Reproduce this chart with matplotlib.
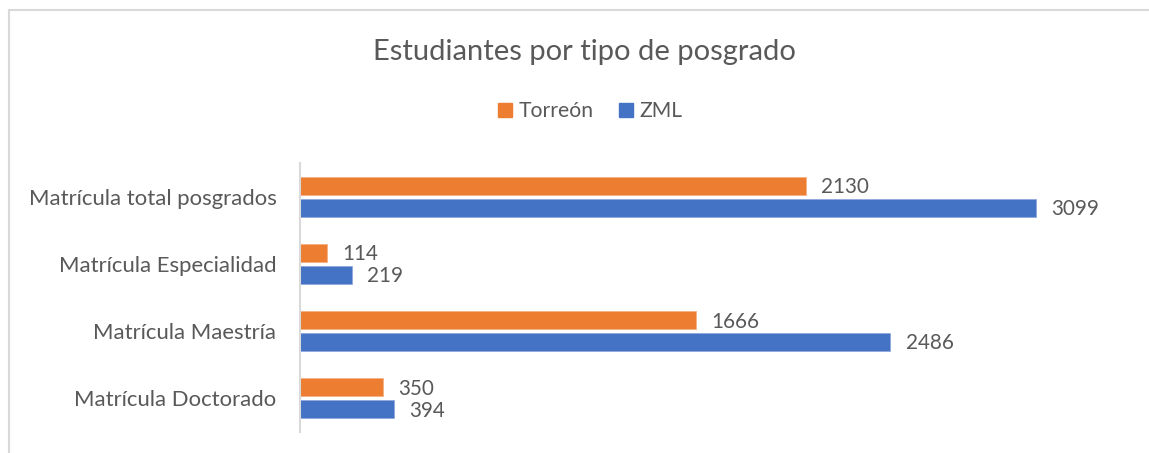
import matplotlib
matplotlib.use("Agg")
import matplotlib.pyplot as plt
import matplotlib.patches as mpatches
import numpy as np

plt.rcParams['font.family'] = ['Lato', 'DejaVu Sans']

title = "Estudiantes por tipo de posgrado"
categories = ["Matrícula total posgrados", "Matrícula Especialidad",
              "Matrícula Maestría", "Matrícula Doctorado"]
series_names = ["Torreón", "ZML"]
torreon = [2130, 114, 1666, 350]
zml = [3099, 219, 2486, 394]
colors = ["#ED7D31", "#4472C4"]
edge_colors = ["#F4B183", "#8FAADC"]
text_color = "#595959"

W, H = 1149, 453
fig = plt.figure(figsize=(W / 100, H / 100), dpi=100)
ax = fig.add_axes([300 / W, 1 - 432 / H, (1131 - 300) / W, (432 - 163) / H])

y = np.arange(len(categories))
bh = 0.267
off = 0.163
b1 = ax.barh(y - off, torreon, height=bh, color=colors[0],
             edgecolor=edge_colors[0], linewidth=0.6, label=series_names[0])
b2 = ax.barh(y + off, zml, height=bh, color=colors[1],
             edgecolor=edge_colors[1], linewidth=0.6, label=series_names[1])

ax.set_xlim(0, 3500)
ax.set_ylim(len(categories) - 0.5, -0.5)
ax.set_yticks(y)
ax.set_yticklabels(categories, color=text_color, fontsize=14)
ax.tick_params(axis='y', length=0, pad=17)
ax.set_xticks([])
for s in ['top', 'right', 'bottom']:
    ax.spines[s].set_visible(False)
ax.spines['left'].set_color('#d9d9d9')
ax.spines['left'].set_linewidth(1.5)

vlabels = []
for bars, vals in ((b1, torreon), (b2, zml)):
    for rect, v in zip(bars, vals):
        t = ax.annotate(str(v), xy=(v, rect.get_y() + rect.get_height() / 2),
                        xytext=(11, -1), textcoords='offset points',
                        va='center', ha='left', color=text_color, fontsize=14)
        vlabels.append(t)

ttl = fig.text(584 / W, 1 - 52 / H, title, ha='center', va='center',
               color=text_color, fontsize=20)

leg = fig.legend(handles=[mpatches.Patch(color=colors[0], label=series_names[0]),
                          mpatches.Patch(color=colors[1], label=series_names[1])],
                 loc='center', bbox_to_anchor=(590 / W, 1 - 111 / H), ncol=2,
                 frameon=False, handlelength=0.75, handleheight=0.75,
                 handletextpad=0.3, columnspacing=1.3, fontsize=14,
                 labelcolor=text_color, borderpad=0)

# fit font sizes to measured pixel widths
fig.canvas.draw()
r = fig.canvas.get_renderer()

def scale_for(t, target):
    w = t.get_window_extent(r).width
    return t.get_fontsize() * target / w

s_title = scale_for(ttl, 423)
ttl.set_fontsize(s_title)
tl = ax.get_yticklabels()
s_tick = scale_for(tl[0], 249)
for t in tl:
    t.set_fontsize(s_tick)
s_val = scale_for(vlabels[4], 48)
for t in vlabels:
    t.set_fontsize(s_val)
lt = leg.get_texts()
s_leg = scale_for(lt[0], 75)
for t in lt:
    t.set_fontsize(s_leg)

border = mpatches.Rectangle((9 / W, -0.1), 1.2, 1 - 10 / H + 0.1,
                            transform=fig.transFigure, fill=False,
                            edgecolor='#d9d9d9', linewidth=1.5)
fig.add_artist(border)

fig.savefig("out.png", dpi=100, facecolor='white')
